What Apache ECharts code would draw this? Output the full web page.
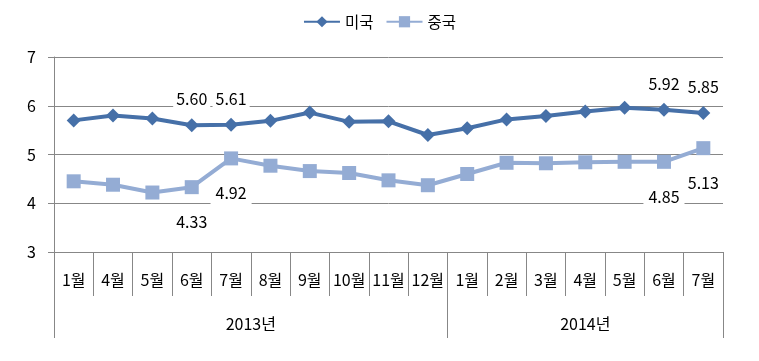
<!DOCTYPE html>
<html><head><meta charset="utf-8">
<script src="https://cdn.jsdelivr.net/npm/echarts@6/dist/echarts.min.js"></script>
<style>html,body{margin:0;padding:0;background:#fff}#c{width:759px;height:361px}</style>
</head><body><div id="c"></div>
<script>
const months = ['1월','4월','5월','6월','7월','8월','9월','10월','11월','12월','1월','2월','3월','4월','5월','6월','7월'];
const years = ['2013년','2014년'];
const yearSpans = [10, 7];
const usa = [5.70,5.80,5.74,5.60,5.61,5.69,5.86,5.67,5.68,5.40,5.54,5.72,5.79,5.88,5.96,5.92,5.85];
const china = [4.45,4.38,4.22,4.33,4.92,4.77,4.66,4.62,4.47,4.37,4.60,4.83,4.82,4.84,4.85,4.85,5.13];
const labeledIdx = [3,4,15,16];
const yTicks = [3,4,5,6,7];

const font = '"Noto Sans CJK KR","Noto Sans",sans-serif';

// secondary axis in half-category units (boundaries)
const halfCount = months.length * 2;
const halfCats = Array.from({length: halfCount + 1}, (_, i) => String(i));
const tickPos = [0];
const labelPos = {};
let acc = 0;
yearSpans.forEach((s, k) => { labelPos[acc * 2 + s] = years[k]; acc += s; tickPos.push(acc * 2); });

function mkData(vals, pos) {
  return vals.map((v, i) => labeledIdx.includes(i)
    ? {value: v, label: {show: true, position: pos}}
    : v);
}

const chart = echarts.init(document.getElementById('c'));
chart.setOption({
  animation: false,
  textStyle: {fontFamily: font},
  legend: {
    top: 9, left: 'center', itemWidth: 36, itemHeight: 14, itemGap: 12,
    textStyle: {fontSize: 15.5, color: '#000', fontFamily: font},
    data: ['미국', '중국']
  },
  grid: {left: 54, right: 36, top: 57, bottom: 109},
  xAxis: [{
    type: 'category', data: months, boundaryGap: true,
    axisLine: {lineStyle: {color: '#878787', width: 1}},
    axisTick: {show: true, interval: 0, length: 44, lineStyle: {color: '#878787'}},
    axisLabel: {interval: 0, margin: 20, fontSize: 16, color: '#000', fontFamily: font}
  }, {
    type: 'category', data: halfCats, boundaryGap: false, position: 'bottom',
    axisLine: {show: false},
    axisTick: {show: true, length: 86, interval: (i) => tickPos.includes(i), lineStyle: {color: '#878787'}},
    axisLabel: {interval: (i) => labelPos[i] !== undefined, formatter: (v, i) => labelPos[i] || '', margin: 64, fontSize: 16, color: '#000', fontFamily: font}
  }],
  yAxis: {
    type: 'value', min: 3, max: 7, interval: 1,
    axisLine: {show: true, lineStyle: {color: '#878787'}},
    axisTick: {show: true, length: 6, lineStyle: {color: '#878787'}},
    axisLabel: {margin: 18, fontSize: 16, color: '#000', fontFamily: font},
    splitLine: {lineStyle: {color: '#878787', width: 1}}
  },
  series: [{
    name: '미국', type: 'line', data: mkData(usa, 'top'),
    symbol: 'diamond', symbolSize: 14, z: 3,
    lineStyle: {width: 4, color: '#4670A8'},
    itemStyle: {color: '#4670A8'},
    label: {distance: 9, fontSize: 16, color: '#000', fontFamily: font, backgroundColor: '#fff', padding: [2, 3], formatter: (p) => p.value.toFixed(2)}
  }, {
    name: '중국', type: 'line', data: mkData(china, 'bottom'),
    symbol: 'rect', symbolSize: 14, z: 2,
    lineStyle: {width: 4, color: '#94ACD4'},
    itemStyle: {color: '#94ACD4'},
    label: {distance: 17, fontSize: 16, color: '#000', fontFamily: font, backgroundColor: '#fff', padding: [3, 5], formatter: (p) => p.value.toFixed(2)}
  }]
});
</script></body></html>
